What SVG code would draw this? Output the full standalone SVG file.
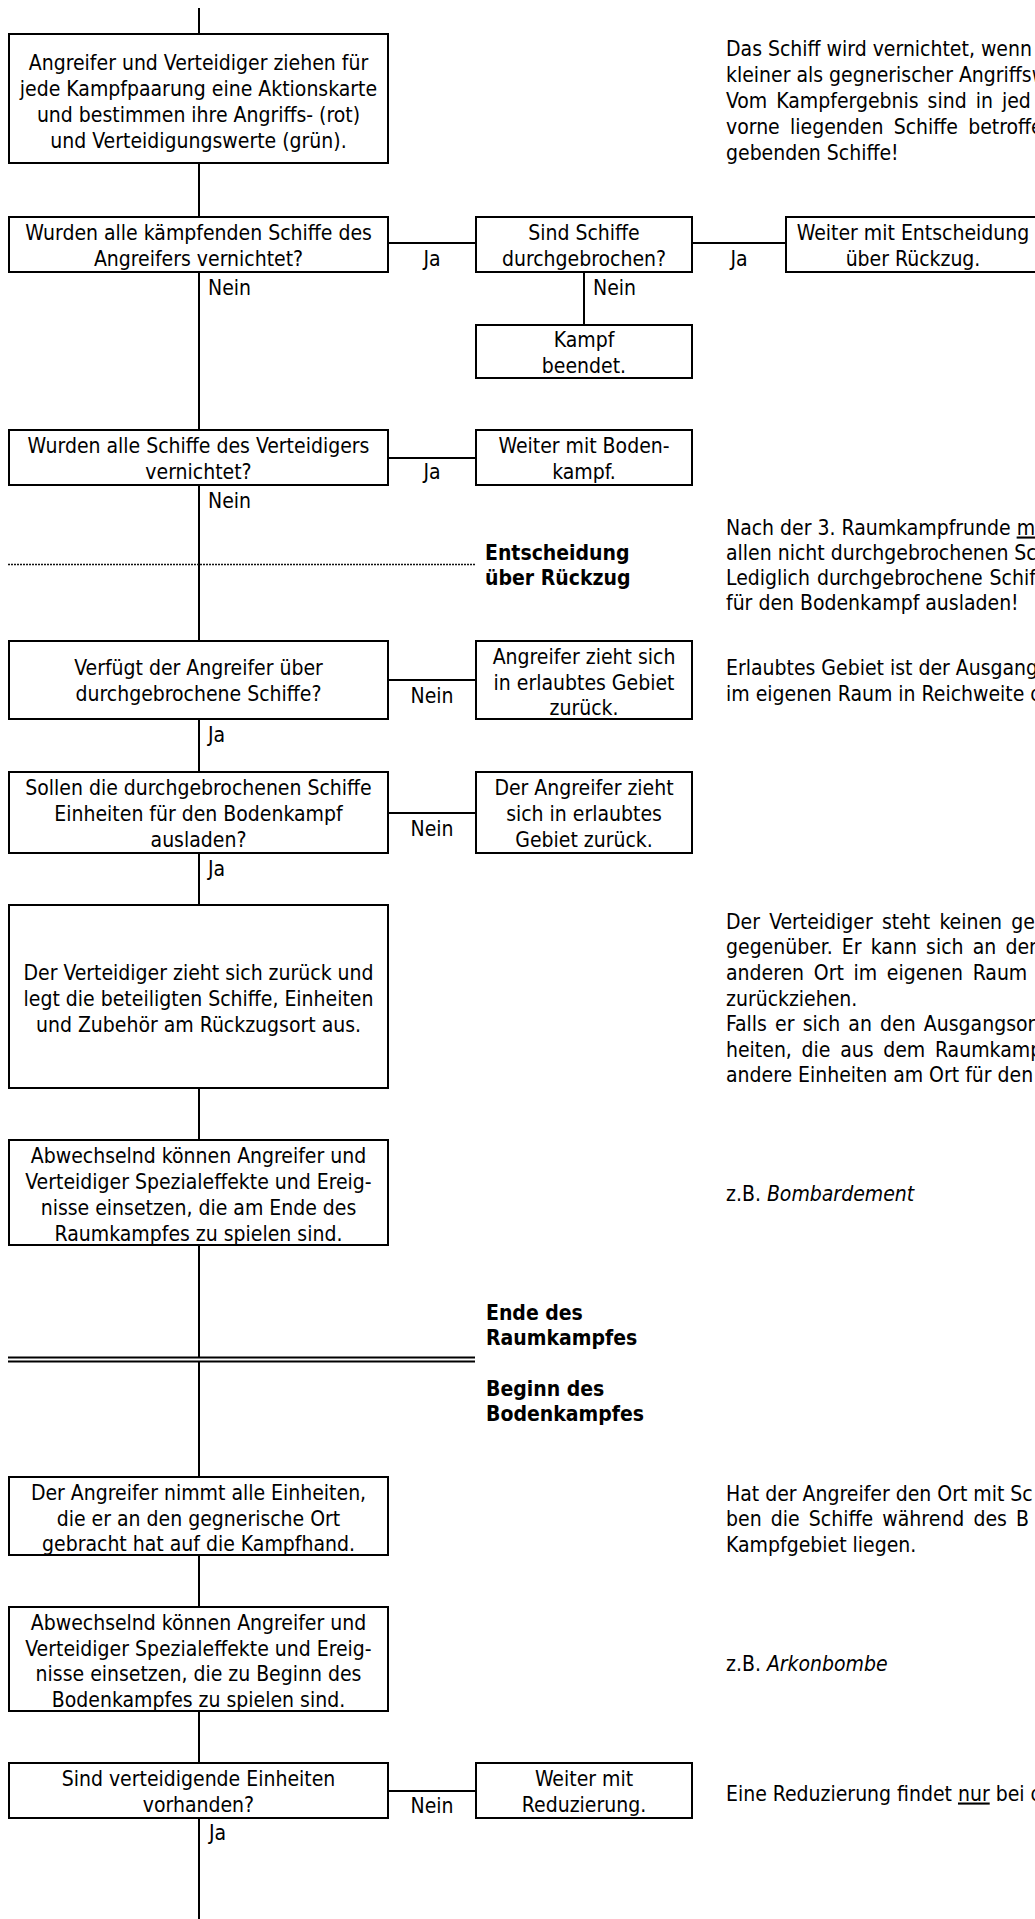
<svg xmlns="http://www.w3.org/2000/svg" width="1035" height="1919" viewBox="0 0 1035 1919">
<style>
.t{font-family:"DejaVu Sans Condensed","DejaVu Sans",sans-serif;font-stretch:condensed;font-size:21px;fill:#000}
.c{text-anchor:middle}
.b{font-weight:bold}
.i{font-style:italic}
.u{text-decoration:underline}
.box{fill:#fff;stroke:#000;stroke-width:2}
.ln{stroke:#000;stroke-width:2;fill:none}
.dot{stroke:#111;stroke-width:1.6;stroke-dasharray:2 1;fill:none}
</style>
<rect width="1035" height="1919" fill="#fff"/>
<g id="connectors">
<path class="ln" d="M199 8V34M199 163V217M199 272V430M199 485V641M199 719V772M199 853V905M199 1088V1140M199 1245V1357M199 1361V1477M199 1555V1607M199 1711V1763M199 1818V1919"/>
<path class="ln" d="M388 243H476M692 243H786M584 272V325M388 458H476M388 680H476M388 813H476M388 1791H476"/>
<path class="ln" d="M8 1357.5H475M8 1361.5H475"/>
<path class="dot" d="M8 564.5H475"/>
<g class="t">
<text x="208" y="294.5">Nein</text>
<text x="432" y="265.5" class="c">Ja</text>
<text x="739" y="265.5" class="c">Ja</text>
<text x="593" y="294.5">Nein</text>
<text x="432" y="478.5" class="c">Ja</text>
<text x="208" y="507.5">Nein</text>
<text x="432" y="702.5" class="c">Nein</text>
<text x="208" y="741.5">Ja</text>
<text x="432" y="835.5" class="c">Nein</text>
<text x="208" y="875.5">Ja</text>
<text x="432" y="1812.5" class="c">Nein</text>
<text x="209" y="1839.5">Ja</text>
</g>
</g>
<g id="n1"><rect class="box" x="9" y="34" width="379" height="129"/>
<text class="t c" x="198.5" y="69.5">Angreifer und Verteidiger ziehen für<tspan x="198.5" y="95.5">jede Kampfpaarung eine Aktionskarte</tspan><tspan x="198.5" y="121.5">und bestimmen ihre Angriffs- (rot)</tspan><tspan x="198.5" y="147.5">und Verteidigungswerte (grün).</tspan></text></g>
<g id="n2"><rect class="box" x="9" y="217" width="379" height="55"/>
<text class="t c" x="198.5" y="239.5">Wurden alle kämpfenden Schiffe des<tspan x="198.5" y="265.5">Angreifers vernichtet?</tspan></text></g>
<g id="n3"><rect class="box" x="476" y="217" width="216" height="55"/>
<text class="t c" x="584" y="239.5">Sind Schiffe<tspan x="584" y="265.5">durchgebrochen?</tspan></text></g>
<g id="n4"><rect class="box" x="786" y="217" width="260" height="55"/>
<text class="t c" x="913" y="239.5">Weiter mit Entscheidung<tspan x="913" y="265.5">über Rückzug.</tspan></text></g>
<g id="n5"><rect class="box" x="476" y="325" width="216" height="53"/>
<text class="t c" x="584" y="346.5">Kampf<tspan x="584" y="372.5">beendet.</tspan></text></g>
<g id="n6"><rect class="box" x="9" y="430" width="379" height="55"/>
<text class="t c" x="198.5" y="452.5">Wurden alle Schiffe des Verteidigers<tspan x="198.5" y="478.5">vernichtet?</tspan></text></g>
<g id="n7"><rect class="box" x="476" y="430" width="216" height="55"/>
<text class="t c" x="584" y="452.5">Weiter mit Boden-<tspan x="584" y="478.5">kampf.</tspan></text></g>
<g id="n8"><rect class="box" x="9" y="641" width="379" height="78"/>
<text class="t c" x="198.5" y="674.5">Verfügt der Angreifer über<tspan x="198.5" y="700.5">durchgebrochene Schiffe?</tspan></text></g>
<g id="n9"><rect class="box" x="476" y="641" width="216" height="78"/>
<text class="t c" x="584" y="663.5">Angreifer zieht sich<tspan x="584" y="689.5">in erlaubtes Gebiet</tspan><tspan x="584" y="714.5">zurück.</tspan></text></g>
<g id="n10"><rect class="box" x="9" y="772" width="379" height="81"/>
<text class="t c" x="198.5" y="794.5">Sollen die durchgebrochenen Schiffe<tspan x="198.5" y="820.5">Einheiten für den Bodenkampf</tspan><tspan x="198.5" y="846.5">ausladen?</tspan></text></g>
<g id="n11"><rect class="box" x="476" y="772" width="216" height="81"/>
<text class="t c" x="584" y="794.5">Der Angreifer zieht<tspan x="584" y="820.5">sich in erlaubtes</tspan><tspan x="584" y="846.5">Gebiet zurück.</tspan></text></g>
<g id="n12"><rect class="box" x="9" y="905" width="379" height="183"/>
<text class="t c" x="198.5" y="979.5">Der Verteidiger zieht sich zurück und<tspan x="198.5" y="1005.5">legt die beteiligten Schiffe, Einheiten</tspan><tspan x="198.5" y="1031.5">und Zubehör am Rückzugsort aus.</tspan></text></g>
<g id="n13"><rect class="box" x="9" y="1140" width="379" height="105"/>
<text class="t c" x="198.5" y="1162.5">Abwechselnd können Angreifer und<tspan x="198.5" y="1188.5">Verteidiger Spezialeffekte und Ereig-</tspan><tspan x="198.5" y="1214.5">nisse einsetzen, die am Ende des</tspan><tspan x="198.5" y="1240.5">Raumkampfes zu spielen sind.</tspan></text></g>
<g id="n14"><rect class="box" x="9" y="1477" width="379" height="78"/>
<text class="t c" x="198.5" y="1500">Der Angreifer nimmt alle Einheiten,<tspan x="198.5" y="1525.5">die er an den gegnerische Ort</tspan><tspan x="198.5" y="1551">gebracht hat auf die Kampfhand.</tspan></text></g>
<g id="n15"><rect class="box" x="9" y="1607" width="379" height="104"/>
<text class="t c" x="198.5" y="1629.5">Abwechselnd können Angreifer und<tspan x="198.5" y="1655.5">Verteidiger Spezialeffekte und Ereig-</tspan><tspan x="198.5" y="1681">nisse einsetzen, die zu Beginn des</tspan><tspan x="198.5" y="1706.5">Bodenkampfes zu spielen sind.</tspan></text></g>
<g id="n16"><rect class="box" x="9" y="1763" width="379" height="55"/>
<text class="t c" x="198.5" y="1785.5">Sind verteidigende Einheiten<tspan x="198.5" y="1811.5">vorhanden?</tspan></text></g>
<g id="n17"><rect class="box" x="476" y="1763" width="216" height="55"/>
<text class="t c" x="584" y="1785.5">Weiter mit<tspan x="584" y="1811.5">Reduzierung.</tspan></text></g>
<g id="sections" class="t b">
<text x="485" y="559.5">Entscheidung<tspan x="485" y="584.5">über Rückzug</tspan></text>
<text x="486" y="1319.5">Ende des<tspan x="486" y="1344.5">Raumkampfes</tspan></text>
<text x="486" y="1395.5">Beginn des<tspan x="486" y="1420.5">Bodenkampfes</tspan></text>
</g>
<g id="notes" class="t">
<text x="726" y="56">Das Schiff wird vernichtet, wenn</text>
<text x="726" y="82">kleiner als gegnerischer Angriffsw</text>
<text x="726" y="108" word-spacing="3">Vom Kampfergebnis sind in jed</text>
<text x="726" y="134" word-spacing="4.3">vorne liegenden Schiffe betroffe</text>
<text x="726" y="160">gebenden Schiffe!</text>

<text x="726" y="534.5">Nach der 3. Raumkampfrunde <tspan class="u">m</tspan></text>
<text x="726" y="559.5">allen nicht durchgebrochenen Sch</text>
<text x="726" y="584.5" word-spacing="1">Lediglich durchgebrochene Schif</text>
<text x="726" y="609.5">für den Bodenkampf ausladen!</text>

<text x="726" y="674.5">Erlaubtes Gebiet ist der Ausgang</text>
<text x="726" y="700.5">im eigenen Raum in Reichweite d</text>

<text x="726" y="928.5" word-spacing="3.2">Der Verteidiger steht keinen ge</text>
<text x="726" y="954" word-spacing="3.2">gegenüber. Er kann sich an den</text>
<text x="726" y="979.5" word-spacing="3.7">anderen Ort im eigenen Raum</text>
<text x="726" y="1005.5">zurückziehen.</text>
<text x="726" y="1031" word-spacing="2.2">Falls er sich an den Ausgangsor</text>
<text x="726" y="1056.5" word-spacing="3.7">heiten, die aus dem Raumkamp</text>
<text x="726" y="1082">andere Einheiten am Ort für den</text>

<text x="726" y="1200.5">z.B. <tspan class="i">Bombardement</tspan></text>

<text x="726" y="1500.5">Hat der Angreifer den Ort mit Sc</text>
<text x="726" y="1526" word-spacing="3.2">ben die Schiffe während des B</text>
<text x="726" y="1551.5">Kampfgebiet liegen.</text>

<text x="726" y="1670.5">z.B. <tspan class="i">Arkonbombe</tspan></text>

<text x="726" y="1800.5">Eine Reduzierung findet <tspan class="u">nur</tspan> bei d</text>
</g>
</svg>
